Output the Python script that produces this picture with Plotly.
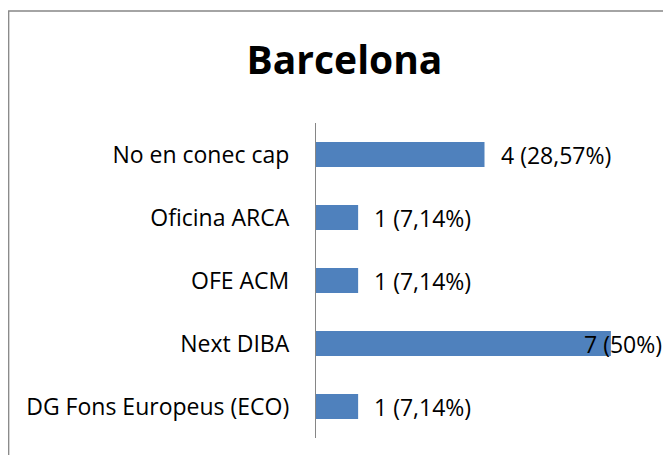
import plotly.graph_objects as go

# Data
categories = ["No en conec cap", "Oficina ARCA", "OFE ACM", "Next DIBA", "DG Fons Europeus (ECO)"]
values = [4, 1, 1, 7, 1]
title_text = "Barcelona"

total = sum(values)


def fmt_label(v):
    pct = v / total * 100
    s = f"{pct:.2f}".rstrip("0").rstrip(".").replace(".", ",")
    return f"{v} ({s}%)"


labels = [fmt_label(v) for v in values]

# the page body adds an 8px margin; size the figure so the page does not scroll
W, H = 655, 447
ml, mr, mt, mb = 308, 10, 115, 17
FONT = "Open Sans"

fig = go.Figure(
    go.Bar(
        x=values,
        y=categories,
        orientation="h",
        marker=dict(color="#4F81BD", line=dict(width=0)),
        hoverinfo="skip",
    )
)

annotations = []
vmax = max(values)
for c, v, lab in zip(categories, values, labels):
    shift = 14 if v < vmax else -29
    annotations.append(
        dict(
            x=v, y=c, xref="x", yref="y",
            text=lab, showarrow=False,
            xanchor="left", yanchor="middle",
            xshift=shift,
            font=dict(family=FONT, size=23, color="#000000"),
        )
    )

pw = W - ml - mr
ph = H - mt - mb
border = dict(
    type="rect", xref="paper", yref="paper",
    x0=(0.7 - ml) / pw, x1=1.5,
    y0=-1.0, y1=(H - mb - 3) / ph,
    line=dict(color="#868686", width=1.3),
    fillcolor="rgba(0,0,0,0)",
    layer="below",
)

fig.update_layout(
    width=W, height=H,
    margin=dict(l=ml, r=mr, t=mt, b=mb, pad=0),
    paper_bgcolor="white", plot_bgcolor="white",
    showlegend=False,
    bargap=0.6,
    title=dict(
        text=f"<b>{title_text}</b>",
        x=336.5 / W, xanchor="center",
        y=1 - 52 / H, yanchor="middle", yref="container",
        font=dict(family=FONT, size=39, color="#000000"),
    ),
    xaxis=dict(
        range=[0, 8], visible=False, showgrid=False, zeroline=False,
    ),
    yaxis=dict(
        autorange="reversed",
        showline=True, linecolor="#868686", linewidth=1.3,
        ticks="", showgrid=False, zeroline=False,
        ticklabelstandoff=21,
        tickfont=dict(family=FONT, size=23, color="#000000"),
    ),
    annotations=annotations,
    shapes=[border],
)

fig.write_html("out.html")
